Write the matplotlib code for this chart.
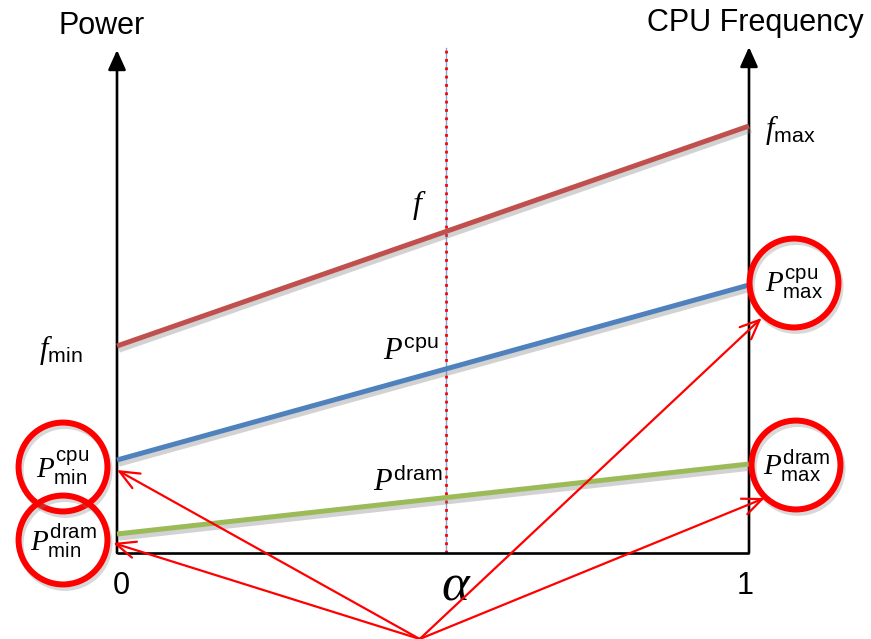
import matplotlib
matplotlib.use("Agg")
import matplotlib.pyplot as plt
import matplotlib.patheffects as pe
import matplotlib.transforms as mtrans
import numpy as np

plt.rcParams['font.family'] = ['Liberation Sans', 'DejaVu Sans']
plt.rcParams['mathtext.fontset'] = 'custom'
plt.rcParams['mathtext.it'] = 'Liberation Serif:italic'
plt.rcParams['mathtext.rm'] = 'Liberation Sans'
plt.rcParams['mathtext.sf'] = 'Liberation Sans'

# ---- data ----
alpha_ends = [0.0, 1.0]
freq = [0.414, 0.854]        # f_min -> f_max
p_cpu = [0.186, 0.536]       # P_min^cpu -> P_max^cpu
p_dram = [0.038, 0.178]      # P_min^dram -> P_max^dram
alpha_sample = 0.52
axis_top = [1.006, 1.012]
x_tick_labels = ['0', '1']

RED = '#c0504d'
BLUE = '#4f81bd'
GREEN = '#9bbb59'
HL = '#ff0000'

fig = plt.figure(figsize=(8.71, 6.39), dpi=100)
ax = fig.add_axes([0, 0, 1, 1])
ax.set_xlim(-117/632, 754/632)
ax.set_ylim(-86/500, 553/500)
ax.axis('off')

shadow = [pe.SimpleLineShadow(offset=(1.5, -3), shadow_color='0.5', alpha=0.35), pe.Normal()]

# axes
ax.plot([0, 1], [0, 0], color='k', lw=1.9, solid_capstyle='butt', zorder=3)
for xa, top in zip(alpha_ends, axis_top):
    ax.annotate('', xy=(xa, top), xytext=(xa, 0),
                arrowprops=dict(arrowstyle='-|>,head_length=0.6,head_width=0.27',
                                lw=1.9, color='k', mutation_scale=20,
                                shrinkA=0, shrinkB=0), zorder=3)

# vertical sample line
ax.plot([alpha_sample, alpha_sample], [0, 1.01], color='#7ea6d8', lw=1.0, zorder=2)
ax.plot([alpha_sample, alpha_sample], [0, 1.01], color=HL, lw=2.0,
        linestyle=(0, (1, 2)), zorder=2)

# colored lines
for ys, c in [(freq, RED), (p_cpu, BLUE), (p_dram, GREEN)]:
    ax.plot(alpha_ends, ys, color=c, lw=3.6, solid_capstyle='butt',
            path_effects=shadow, zorder=4)

def off(dx, dy):
    return mtrans.offset_copy(ax.transData, fig=fig, x=dx, y=dy, units='dots')

# circles with labels
circle_specs = [
    (0.0, p_cpu[0], -54, -7, r'$P^{\mathrm{cpu}}_{\mathrm{min}}$'),
    (0.0, p_dram[0], -54, -6, r'$P^{\mathrm{dram}}_{\mathrm{min}}$'),
    (1.0, p_cpu[1], 45, 2, r'$P^{\mathrm{cpu}}_{\mathrm{max}}$'),
    (1.0, p_dram[1], 47, -1, r'$P^{\mathrm{dram}}_{\mathrm{max}}$'),
]
for xa, ya, dx, dy, lab in circle_specs:
    ax.plot([xa], [ya], marker='o', markersize=64, markerfacecolor='none',
            markeredgecolor=HL, markeredgewidth=4.3, transform=off(dx, dy),
            path_effects=[pe.SimpleLineShadow(offset=(1.5, -2.5), shadow_color='0.5', alpha=0.3), pe.Normal()],
            zorder=5)
    ax.text(xa, ya, lab, transform=off(dx, dy - 1), ha='center', va='center',
            fontsize=21, zorder=6)

# red arrows from common origin
arrow_origin = (0.479, -0.172)
arrow_tips = [(0.0, 0.166), (-0.006, 0.020), (1.020, 0.470), (1.025, 0.110)]
for tip in arrow_tips:
    ax.annotate('', xy=tip, xytext=arrow_origin,
                arrowprops=dict(arrowstyle='->,head_length=0.7,head_width=0.3',
                                lw=1.6, color=HL, mutation_scale=20,
                                shrinkA=0, shrinkB=0), zorder=7)

# labels
ax.text(0, freq[0], r'$f_{\mathrm{min}}$', transform=off(-56, -4),
        ha='center', va='center', fontsize=22)
ax.text(1, freq[1], r'$f_{\mathrm{max}}$', transform=off(41, -4),
        ha='center', va='center', fontsize=22)

def interp(ys, a):
    return ys[0] + (ys[1] - ys[0]) * a

ax.text(alpha_sample, interp(freq, alpha_sample), r'$f$', transform=off(-26, 27),
        ha='center', va='center', fontsize=23)
ax.text(alpha_sample, interp(p_cpu, alpha_sample), r'$P^{\mathrm{cpu}}$', transform=off(-35, 17),
        ha='center', va='center', fontsize=22)
ax.text(alpha_sample, interp(p_dram, alpha_sample), r'$P^{\mathrm{dram}}$', transform=off(-38, 15),
        ha='center', va='center', fontsize=22)

for xa, lab, dx in zip(alpha_ends, x_tick_labels, [4, -4]):
    ax.text(xa, 0, lab, transform=off(dx, -33), ha='center', va='center', fontsize=22)
ax.text(alpha_sample, 0, r'$\alpha$', transform=off(11, -32), ha='center', va='center', fontsize=38)

ax.text(0, axis_top[0], 'Power', transform=off(-15, 24), ha='center', va='center', fontsize=22)
ax.text(1, axis_top[1], 'CPU Frequency', transform=off(6, 24), ha='center', va='center', fontsize=22)

fig.savefig('out.png', dpi=100)
